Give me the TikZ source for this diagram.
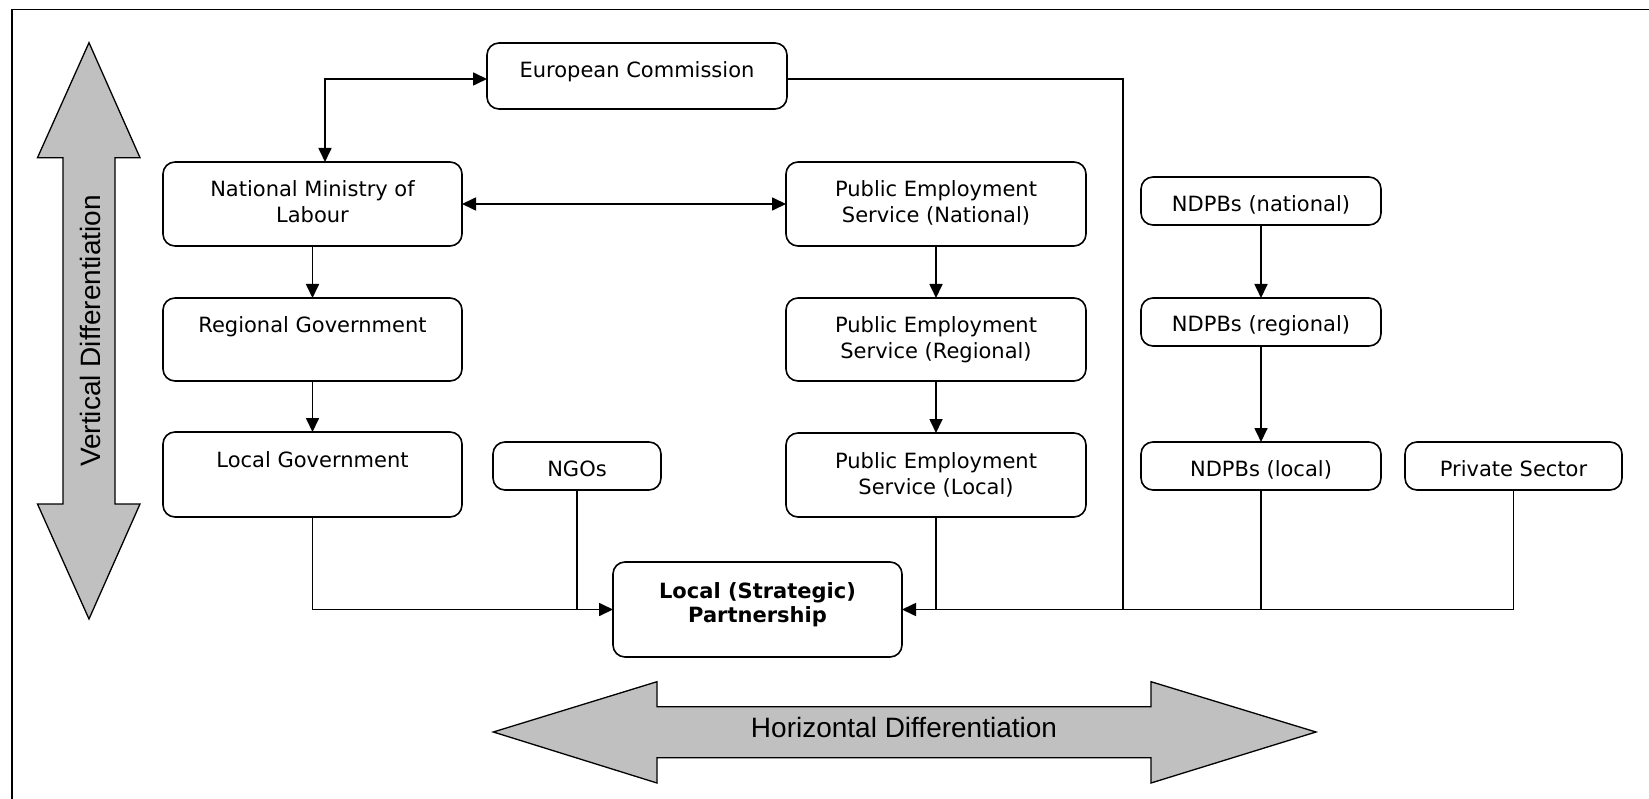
\documentclass[tikz,border=0pt]{standalone}
\usepackage{fontspec}
\newfontfamily\boxfont{DejaVu Sans}
\newfontfamily\arrowfont{Liberation Sans}
\usetikzlibrary{arrows.meta,calc}
\definecolor{arrowgray}{RGB}{192,192,192}
\tikzset{
  box/.style={draw, rounded corners=12pt, line width=1.6pt, inner sep=0pt, outer sep=0pt,
    align=center, anchor=north west, font=\boxfont\fontsize{21}{26}\selectfont},
  tallbox/.style={box, text height=35pt},
  twobox/.style={box, text height=61pt},
  smallbox/.style={box, text height=34pt, text depth=14pt},
  conn/.style={line width=1.7pt},
  tip/.style={-{Triangle[length=14pt,width=13pt]}},
  dbl/.style={{Triangle[length=14pt,width=13pt]}-{Triangle[length=14pt,width=13pt]}},
  bigarrow/.style={fill=arrowgray, draw=black, line width=1.3pt, line join=miter},
  bigtxt/.style={font=\arrowfont\fontsize{28}{32}\selectfont, inner sep=0pt}
}
\begin{document}
\begin{tikzpicture}[x=1pt,y=-1pt]
\useasboundingbox (0,0) rectangle (1649,799);
% frame
\draw[line width=1.8pt] (12,799) -- (12,9.5) -- (1649,9.5);
% big arrows
\draw[bigarrow] (89,42.7) -- (140,157.7) -- (115,157.7) -- (115,504) -- (140,504) -- (89,619)
  -- (37.5,504) -- (63,504) -- (63,157.7) -- (37.5,157.7) -- cycle;
\node[bigtxt, rotate=90] (vtxt) at (90,331) {Vertical Differentiation};
\draw[bigarrow] (493.3,732) -- (657,681.7) -- (657,706.7) -- (1151,706.7) -- (1151,681.7) -- (1316,732)
  -- (1151,783) -- (1151,757.7) -- (657,757.7) -- (657,783) -- cycle;
\node[bigtxt] (htxt) at (904,727) {Horizontal Differentiation};
% boxes
\node[tallbox, minimum width=300pt, text depth=31pt] (ec) at (487,43) {European Commission};
\node[twobox, minimum width=299pt, text depth=23pt] (nml) at (163,162) {National Ministry of\\Labour};
\node[tallbox, minimum width=299pt, text depth=48pt] (rg) at (163,298) {Regional Government};
\node[tallbox, minimum width=299pt, text depth=50pt] (lg) at (163,432) {Local Government};
\node[twobox, minimum width=300pt, text depth=23pt] (pesn) at (786,162) {Public Employment\\Service (National)};
\node[twobox, minimum width=300pt, text depth=22pt] (pesr) at (786,298) {Public Employment\\Service (Regional)};
\node[twobox, minimum width=300pt, text depth=23pt] (pesl) at (786,433) {Public Employment\\Service (Local)};
\node[smallbox, minimum width=168pt] (ngos) at (493,442) {NGOs};
\node[smallbox, minimum width=240pt, text height=35pt, text depth=13pt] (ndn) at (1141,177) {NDPBs (national)};
\node[smallbox, minimum width=240pt] (ndr) at (1141,298) {NDPBs (regional)};
\node[smallbox, minimum width=240pt] (ndl) at (1141,442) {NDPBs (local)};
\node[smallbox, minimum width=217pt] (priv) at (1405,442) {Private Sector};
\node[box, minimum width=289pt, text height=60pt, text depth=35pt,
  font=\boxfont\bfseries\fontsize{21}{24}\selectfont] (lsp) at (613,562) {Local (Strategic)\\Partnership};
% connectors
\draw[conn, dbl] ([yshift=-3pt]ec.west) -| ([xshift=12.5pt]nml.north);
\draw[conn, dbl] (nml.east) -- (pesn.west);
\draw[conn, tip] (nml.south) -- (rg.north);
\draw[conn, tip] (rg.south) -- (lg.north);
\draw[conn, tip] (pesn.south) -- (pesr.north);
\draw[conn, tip] (pesr.south) -- (pesl.north);
\draw[conn, tip] (ndn.south) -- (ndr.north);
\draw[conn, tip] (ndr.south) -- (ndl.north);
\draw[conn, tip] (lg.south) |- (lsp.west);
\draw[conn] (ngos.south) -- (ngos.south |- lsp.west);
\draw[conn] ([yshift=-3pt]ec.east) -| ([xshift=-18pt]ndl.west |- lsp.east);
\draw[conn] (pesl.south) -- (pesl.south |- lsp.east);
\draw[conn] (ndl.south) -- (ndl.south |- lsp.east);
\draw[conn, tip] (priv.south) |- (lsp.east);
\end{tikzpicture}
\end{document}
